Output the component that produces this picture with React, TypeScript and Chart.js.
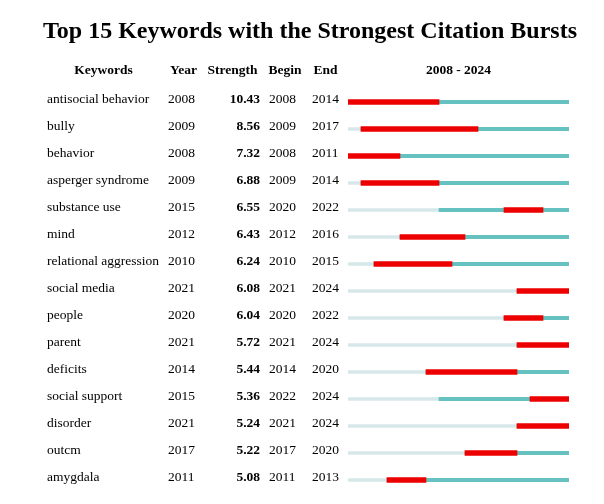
import React, { useEffect, useRef } from "react";
import { Chart, registerables } from "chart.js";
Chart.register(...registerables);

const titleText = "Top 15 Keywords with the Strongest Citation Bursts";
const headerLabels = ["Keywords", "Year", "Strength", "Begin", "End"];
const firstYear = 2008;
const lastYear = 2024;

const keywords = [
  "antisocial behavior",
  "bully",
  "behavior",
  "asperger syndrome",
  "substance use",
  "mind",
  "relational aggression",
  "social media",
  "people",
  "parent",
  "deficits",
  "social support",
  "disorder",
  "outcm",
  "amygdala",
];
const years = [2008, 2009, 2008, 2009, 2015, 2012, 2010, 2021, 2020, 2021, 2014, 2015, 2021, 2017, 2011];
const strengths = [10.43, 8.56, 7.32, 6.88, 6.55, 6.43, 6.24, 6.08, 6.04, 5.72, 5.44, 5.36, 5.24, 5.22, 5.08];
const begins = [2008, 2009, 2008, 2009, 2020, 2012, 2010, 2021, 2020, 2021, 2014, 2022, 2021, 2017, 2011];
const ends = [2014, 2017, 2011, 2014, 2022, 2016, 2015, 2024, 2022, 2024, 2020, 2024, 2024, 2020, 2013];

const RED = "rgb(236,0,0)";
const TEAL = "rgb(102,193,193)";
const LIGHT = "rgb(214,232,234)";
const SERIF = '"Liberation Serif", "Times New Roman", serif';

const textPlugin = {
  id: "burstTable",
  afterDraw(chart: any) {
    const ctx = chart.ctx;
    const y = chart.scales.y;
    const x = chart.scales.x;
    ctx.save();
    ctx.fillStyle = "#000";
    ctx.textBaseline = "alphabetic";

    // title
    ctx.font = `bold 24px ${SERIF}`;
    ctx.textAlign = "center";
    ctx.fillText(titleText, 310, 38);

    // headers
    ctx.font = `bold 13.5px ${SERIF}`;
    const hy = 73.5;
    ctx.textAlign = "center";
    ctx.fillText(headerLabels[0], 103.5, hy);
    ctx.textAlign = "left";
    ctx.fillText(headerLabels[1], 170, hy);
    ctx.fillText(headerLabels[2], 207.5, hy);
    ctx.fillText(headerLabels[3], 268.5, hy);
    ctx.fillText(headerLabels[4], 313.5, hy);
    ctx.textAlign = "center";
    const cx = (x.getPixelForValue(firstYear) + x.getPixelForValue(lastYear + 1)) / 2;
    ctx.fillText(`${firstYear} - ${lastYear}`, cx, hy);

    // rows
    keywords.forEach((kw, i) => {
      const by = y.getPixelForValue(i) + 0.5;
      ctx.font = `13.5px ${SERIF}`;
      ctx.textAlign = "left";
      ctx.fillText(kw, 47, by);
      ctx.fillText(String(years[i]), 168, by);
      ctx.fillText(String(begins[i]), 269, by);
      ctx.fillText(String(ends[i]), 312, by);
      ctx.font = `bold 13.5px ${SERIF}`;
      ctx.textAlign = "right";
      ctx.fillText(strengths[i].toFixed(2), 260, by);
    });
    ctx.restore();
  },
};

export default function App() {
  const ref = useRef<HTMLCanvasElement | null>(null);
  useEffect(() => {
    if (!ref.current) return;
    const chart = new Chart(ref.current, {
      type: "bar",
      data: {
        labels: keywords,
        datasets: [
          {
            label: "burst",
            data: begins.map((b, i) => [b, ends[i] + 1]) as any,
            backgroundColor: RED,
            barThickness: 5,
            grouped: false,
            borderWidth: 0,
          },
          {
            label: "active",
            data: years.map((yv) => [yv, lastYear + 1]) as any,
            backgroundColor: TEAL,
            barThickness: 3.5,
            grouped: false,
            borderWidth: 0,
          },
          {
            label: "before",
            data: years.map((yv) => [firstYear, yv]) as any,
            backgroundColor: LIGHT,
            barThickness: 3,
            grouped: false,
            borderWidth: 0,
          },
        ],
      },
      options: {
        indexAxis: "y",
        animation: false,
        responsive: true,
        maintainAspectRatio: false,
        layout: { padding: { left: 348, right: 35, top: 88.5, bottom: 10.5 } },
        scales: {
          x: { type: "linear", min: firstYear, max: lastYear + 1, display: false },
          y: { type: "category", display: false, offset: true },
        },
        plugins: {
          legend: { display: false },
          tooltip: { enabled: false },
          title: { display: false },
        },
      },
      plugins: [textPlugin],
    });
    return () => chart.destroy();
  }, []);
  return (
    <div style={{ position: "absolute", left: 0, top: 0, width: 604, height: 504, background: "#fff" }}>
      <canvas ref={ref} />
    </div>
  );
}
